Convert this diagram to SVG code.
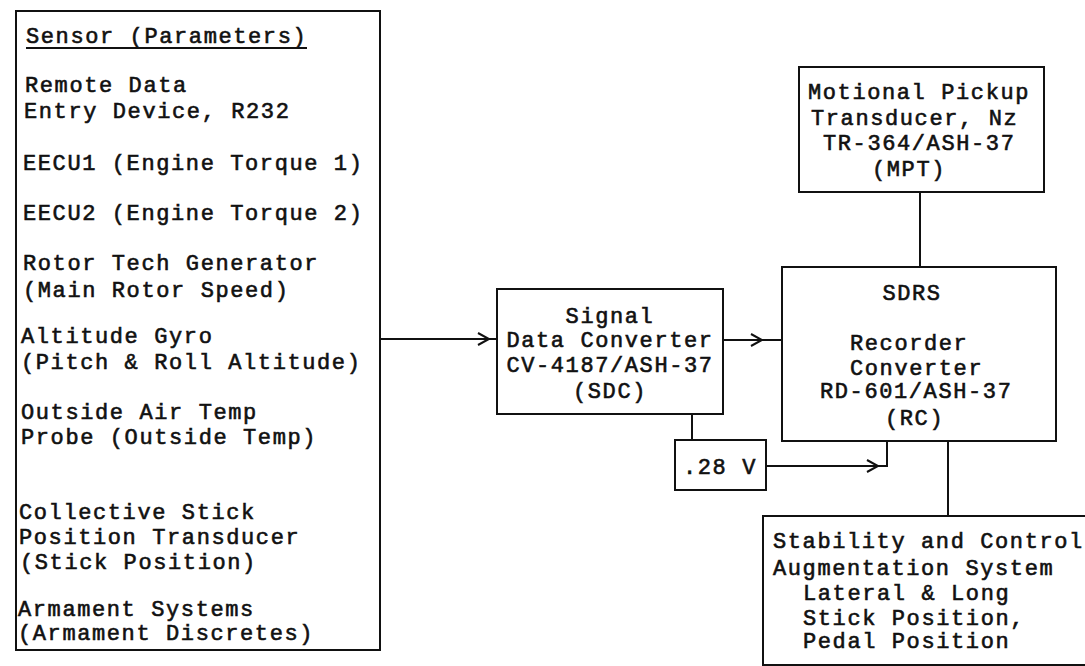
<svg xmlns="http://www.w3.org/2000/svg" width="1085" height="666" viewBox="0 0 1085 666">
<style>
.b{fill:none;stroke:#111;stroke-width:2}
.c{fill:none;stroke:#111;stroke-width:2}
text{font-family:"Liberation Mono","Courier New",monospace;font-size:22px;fill:#111;stroke:#111;stroke-width:0.6px;letter-spacing:1.6px}
</style>
<rect width="1085" height="666" fill="#fff"/>
<g id="sensors">
<rect class="b" x="16" y="11" width="364" height="639"/>
<text x="26" y="43">Sensor (Parameters)</text>
<line x1="26" y1="48" x2="307" y2="48" stroke="#111" stroke-width="2"/>
<text x="25" y="92">Remote Data</text>
<text x="24" y="118">Entry Device, R232</text>
<text x="23" y="170">EECU1 (Engine Torque 1)</text>
<text x="23" y="220">EECU2 (Engine Torque 2)</text>
<text x="23" y="270">Rotor Tech Generator</text>
<text x="23" y="297">(Main Rotor Speed)</text>
<text x="21" y="343">Altitude Gyro</text>
<text x="21" y="369">(Pitch &amp; Roll Altitude)</text>
<text x="21" y="419">Outside Air Temp</text>
<text x="21" y="444">Probe (Outside Temp)</text>
<text x="19" y="519">Collective Stick</text>
<text x="19" y="544">Position Transducer</text>
<text x="20" y="569">(Stick Position)</text>
<text x="18" y="616">Armament Systems</text>
<text x="18" y="640">(Armament Discretes)</text>
</g>
<g id="sdc">
<rect class="b" x="497" y="289" width="226" height="125"/>
<text x="610" y="323" text-anchor="middle">Signal</text>
<text x="610" y="347" text-anchor="middle">Data Converter</text>
<text x="610" y="372" text-anchor="middle">CV-4187/ASH-37</text>
<text x="610" y="398" text-anchor="middle">(SDC)</text>
</g>
<g id="v28">
<rect class="b" x="675" y="440" width="91" height="50"/>
<text x="720" y="474" text-anchor="middle">.28 V</text>
</g>
<g id="mpt">
<rect class="b" x="799" y="67" width="245" height="125"/>
<text x="808" y="99">Motional Pickup</text>
<text x="811" y="125">Transducer, Nz</text>
<text x="823" y="150">TR-364/ASH-37</text>
<text x="872" y="176">(MPT)</text>
</g>
<g id="rc">
<rect class="b" x="782" y="267" width="274" height="174"/>
<text x="912" y="300" text-anchor="middle">SDRS</text>
<text x="850" y="350">Recorder</text>
<text x="850" y="375">Converter</text>
<text x="820" y="398">RD-601/ASH-37</text>
<text x="885" y="425">(RC)</text>
</g>
<g id="scas">
<rect class="b" x="763" y="516" width="340" height="149"/>
<text x="773" y="548">Stability and Control</text>
<text x="773" y="575">Augmentation System</text>
<text x="803" y="600">Lateral &amp; Long</text>
<text x="803" y="625">Stick Position,</text>
<text x="803" y="648">Pedal Position</text>
</g>
<g id="connectors">
<polyline class="c" points="380,339 490,339 497,339"/>
<polyline class="c" points="478,333 489,339 478,345"/>
<polyline class="c" points="723,340 782,340"/>
<polyline class="c" points="751,334 762,340 751,346"/>
<line class="c" x1="692" y1="414" x2="692" y2="440"/>
<polyline class="c" points="766,466 887,466 887,441"/>
<polyline class="c" points="867,460 878,466 867,472"/>
<line class="c" x1="920" y1="192" x2="920" y2="267"/>
<line class="c" x1="948" y1="441" x2="948" y2="516"/>
</g>
</svg>
